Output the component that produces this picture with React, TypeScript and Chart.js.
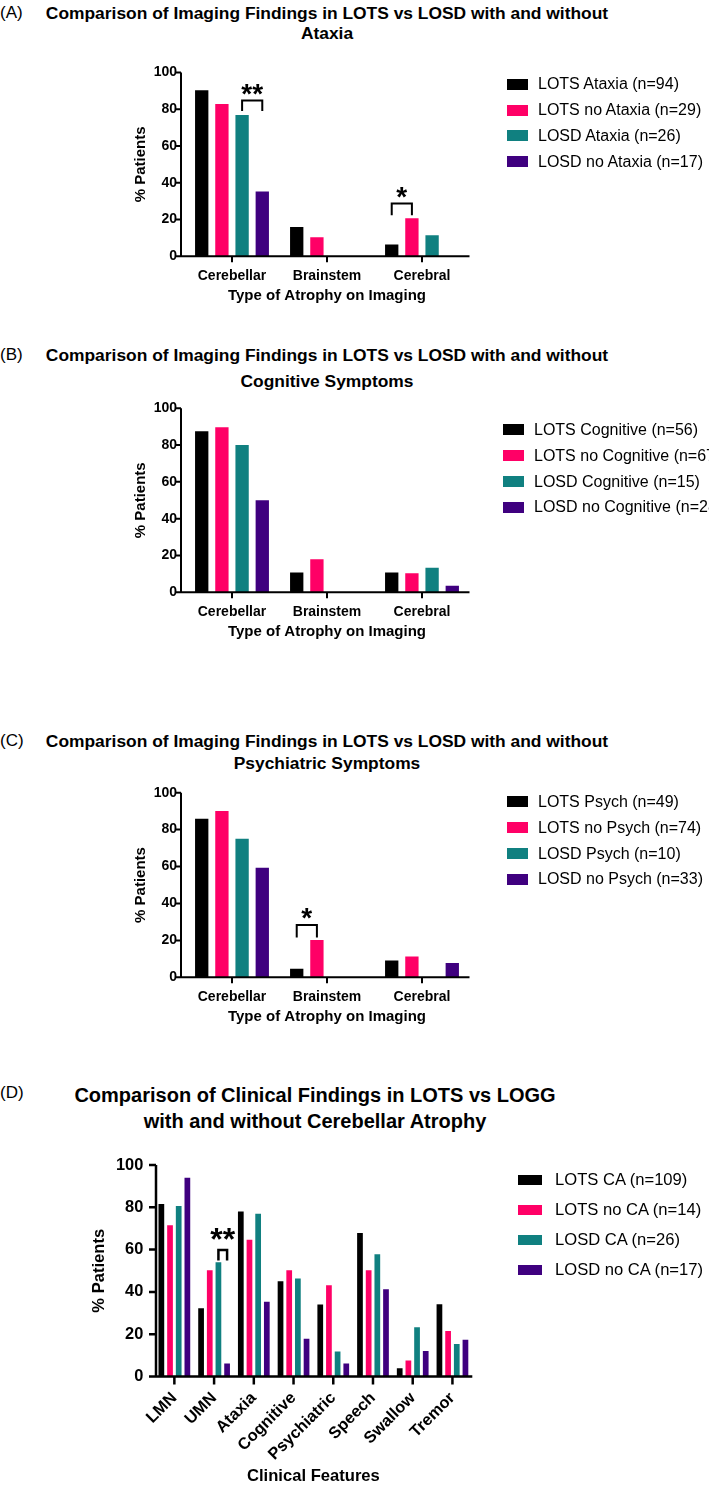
import { useEffect, useRef } from 'react'
import { Chart, registerables } from 'chart.js'

Chart.register(...registerables)

const FONT = "'Liberation Sans', Arial, Helvetica, sans-serif"
const COLORS = ['#000000', '#FF0066', '#108080', '#3F007F']

// ---- shared categories ----
const imagingCats = ['Cerebellar', 'Brainstem', 'Cerebral']
const clinicalCats = ['LMN', 'UMN', 'Ataxia', 'Cognitive', 'Psychiatric', 'Speech', 'Swallow', 'Tremor']

// ---- (A) ataxia ----
const ataxiaNames = ['LOTS Ataxia (n=94)', 'LOTS no Ataxia (n=29)', 'LOSD Ataxia (n=26)', 'LOSD no Ataxia (n=17)']
const lotsAtaxia = [90.4, 16.0, 6.4]
const lotsNoAtaxia = [82.8, 10.3, 20.7]
const losdAtaxia = [76.9, 0, 11.5]
const losdNoAtaxia = [35.3, 0, 0]
const ataxiaSig = [
  { cat: 0, from: 2, to: 3, top: 84.7, leg: 79.1, mark: '**', markAt: 91 },
  { cat: 2, from: 0, to: 1, top: 28.7, leg: 22.4, mark: '*', markAt: 34.7 },
]

// ---- (B) cognitive ----
const cogNames = ['LOTS Cognitive (n=56)', 'LOTS no Cognitive (n=67)', 'LOSD Cognitive (n=15)', 'LOSD no Cognitive (n=28)']
const lotsCog = [87.5, 10.7, 10.7]
const lotsNoCog = [89.6, 17.9, 10.4]
const losdCog = [80.0, 0, 13.3]
const losdNoCog = [50.0, 0, 3.6]

// ---- (C) psychiatric ----
const psychNames = ['LOTS Psych (n=49)', 'LOTS no Psych (n=74)', 'LOSD Psych (n=10)', 'LOSD no Psych (n=33)']
const lotsPsych = [85.9, 4.6, 9.1]
const lotsNoPsych = [90.1, 20.2, 11.3]
const losdPsych = [75.0, 0, 0]
const losdNoPsych = [59.3, 0, 7.7]
const psychSig = [{ cat: 1, from: 0, to: 1, top: 28.3, leg: 21.6, mark: '*', markAt: 34.7 }]

// ---- (D) cerebellar atrophy ----
const caNames = ['LOTS CA (n=109)', 'LOTS no CA (n=14)', 'LOSD CA (n=26)', 'LOSD no CA (n=17)']
const lotsCA = [81.6, 32.3, 78.0, 45.0, 34.0, 67.9, 3.9, 34.2]
const lotsNoCA = [71.5, 50.2, 64.6, 50.2, 43.1, 50.2, 7.6, 21.5]
const losdCA = [80.6, 54.0, 77.0, 46.3, 11.8, 57.8, 23.3, 15.4]
const losdNoCA = [94.0, 6.1, 35.4, 17.8, 6.1, 41.3, 12.1, 17.4]
const caSig = [{ cat: 1, from: 2, to: 3, top: 59.8, leg: 54.8, mark: '**', markAt: 67.2 }]

type Sig = { cat: number; from: number; to: number; top: number; leg: number; mark: string; markAt: number }

interface PanelProps {
  top: number
  height: number
  area: { left: number; right: number; top: number; bottom: number }
  axisX: number
  labels: string[]
  series: number[][]
  names: string[]
  sig: Sig[]
  xTitle: string
  catPct: number
  barPct: number
  tickFont: number
  titleFont: number
  yTitleX: number
  yLabelRight: number
  xLabelPad: number
  xTitleGap: number
  tickLen: number
  lineW: number
  starFont: number
  rotate?: number
}

function BarPanel(p: PanelProps) {
  const canvasRef = useRef<HTMLCanvasElement>(null)
  const chartRef = useRef<Chart | null>(null)

  useEffect(() => {
    if (!canvasRef.current) return
    if (chartRef.current) chartRef.current.destroy()

    const titleLH = p.titleFont * 1.2
    const padLeft = p.yTitleX - titleLH / 2
    const yw = p.area.left - padLeft
    const xh = p.xTitleGap + titleLH / 2
    const padTop = p.area.top - p.top
    const padBottom = p.top + p.height - p.area.bottom - xh

    // axis lines + outward tick marks, drawn like the original figure
    const axes = {
      id: 'prismAxes',
      afterDatasetsDraw(chart: Chart) {
        const { ctx, chartArea, scales } = chart
        const x0 = p.axisX
        const y = scales.y
        ctx.save()
        ctx.strokeStyle = '#000'
        ctx.lineWidth = p.lineW
        ctx.lineJoin = 'miter'
        ctx.beginPath()
        ctx.moveTo(x0, y.getPixelForValue(100))
        ctx.lineTo(x0, chartArea.bottom)
        ctx.lineTo(chartArea.right, chartArea.bottom)
        y.ticks.forEach(t => {
          const py = y.getPixelForValue(t.value)
          ctx.moveTo(x0 - p.tickLen, py)
          ctx.lineTo(x0, py)
        })
        scales.x.ticks.forEach((_, i) => {
          const px = scales.x.getPixelForTick(i)
          ctx.moveTo(px, chartArea.bottom)
          ctx.lineTo(px, chartArea.bottom + p.tickLen + 1)
        })
        ctx.stroke()
        ctx.restore()
      },
    }

    // significance brackets between two bars of one category
    const brackets = {
      id: 'sigBrackets',
      afterDatasetsDraw(chart: Chart) {
        const { ctx } = chart
        const y = chart.scales.y
        p.sig.forEach(s => {
          const xa = (chart.getDatasetMeta(s.from).data[s.cat] as any).x
          const xb = (chart.getDatasetMeta(s.to).data[s.cat] as any).x
          ctx.save()
          ctx.strokeStyle = '#000'
          ctx.lineWidth = p.lineW
          ctx.beginPath()
          ctx.moveTo(xa, y.getPixelForValue(s.leg))
          ctx.lineTo(xa, y.getPixelForValue(s.top))
          ctx.lineTo(xb, y.getPixelForValue(s.top))
          ctx.lineTo(xb, y.getPixelForValue(s.leg))
          ctx.stroke()
          ctx.font = `bold ${p.starFont}px ${FONT}`
          ctx.fillStyle = '#000'
          ctx.textAlign = 'center'
          ctx.textBaseline = 'alphabetic'
          const m = ctx.measureText(s.mark)
          const cy = y.getPixelForValue(s.markAt)
          ctx.fillText(s.mark, (xa + xb) / 2, cy + (m.actualBoundingBoxAscent - m.actualBoundingBoxDescent) / 2)
          ctx.restore()
        })
      },
    }

    chartRef.current = new Chart(canvasRef.current, {
      type: 'bar',
      data: {
        labels: p.labels,
        datasets: p.series.map((d, i) => ({
          label: p.names[i],
          data: d,
          backgroundColor: COLORS[i],
          borderWidth: 0,
          categoryPercentage: p.catPct,
          barPercentage: p.barPct,
        })),
      },
      options: {
        animation: false,
        responsive: false,
        layout: { padding: { left: padLeft, top: padTop, right: 709 - p.area.right, bottom: padBottom } },
        plugins: { legend: { display: false }, tooltip: { enabled: false } },
        scales: {
          x: {
            grid: { display: false, drawTicks: false },
            border: { display: false },
            ticks: {
              color: '#000',
              font: { family: FONT, size: p.tickFont, weight: 'bold' },
              padding: p.xLabelPad,
              autoSkip: false,
              minRotation: p.rotate ?? 0,
              maxRotation: p.rotate ?? 0,
            },
            title: {
              display: true,
              text: p.xTitle,
              color: '#000',
              font: { family: FONT, size: p.titleFont, weight: 'bold' },
              padding: 0,
            },
            afterFit: (s: any) => { s.height = xh },
          },
          y: {
            min: 0,
            max: 100,
            grid: { display: false, drawTicks: false },
            border: { display: false },
            ticks: {
              stepSize: 20,
              color: '#000',
              font: { family: FONT, size: p.tickFont, weight: 'bold' },
              padding: p.area.left - p.yLabelRight,
            },
            title: {
              display: true,
              text: '% Patients',
              color: '#000',
              font: { family: FONT, size: p.titleFont, weight: 'bold' },
              padding: 0,
            },
            afterFit: (s: any) => { s.width = yw },
          },
        },
      },
      plugins: [axes, brackets],
    })

    return () => { chartRef.current?.destroy() }
  }, [])

  return (
    <canvas
      ref={canvasRef}
      width={709}
      height={p.height}
      style={{ position: 'absolute', left: 0, top: p.top, width: 709, height: p.height }}
      role="img"
      aria-label={p.xTitle}
    />
  )
}

function Legend({ names, left, first, step, boxW, boxH, gap, size }: {
  names: string[]; left: number; first: number; step: number; boxW: number; boxH: number; gap: number; size: number
}) {
  return (
    <>
      {names.map((n, i) => (
        <div key={n} style={{
          position: 'absolute', left, top: first + i * step - step / 2, height: step,
          display: 'flex', alignItems: 'center', whiteSpace: 'nowrap',
          fontFamily: FONT, fontSize: size, color: '#000',
        }}>
          <span style={{ display: 'inline-block', width: boxW, height: boxH, background: COLORS[i], marginRight: gap }} />
          {n}
        </div>
      ))}
    </>
  )
}

function PanelTitle({ tag, lines, tagY, cx, y1, lh, size }: {
  tag: string; lines: string[]; tagY: number; cx: number; y1: number; lh: number; size: number
}) {
  return (
    <>
      <div style={{ position: 'absolute', left: 0, top: tagY - 10, lineHeight: '20px', fontFamily: FONT, fontSize: 17, color: '#000' }}>{tag}</div>
      <div style={{
        position: 'absolute', left: cx - 340, width: 680, top: y1 - lh / 2, lineHeight: `${lh}px`,
        textAlign: 'center', fontFamily: FONT, fontSize: size, fontWeight: 'bold', color: '#000',
      }}>
        {lines.map(l => <div key={l}>{l}</div>)}
      </div>
    </>
  )
}

const small = {
  axisX: 181, catPct: 0.85, barPct: 0.66, tickFont: 14, titleFont: 15,
  yTitleX: 141, yLabelRight: 177, xLabelPad: 11, xTitleGap: 39.4,
  tickLen: 5, lineW: 2, starFont: 28, xTitle: 'Type of Atrophy on Imaging',
}

export default function App() {
  return (
    <div style={{ position: 'absolute', left: 0, top: 0, width: 709, height: 1486, overflow: 'hidden', background: '#fff' }}>
      <PanelTitle tag="(A)" tagY={13} cx={327} y1={13} lh={20.5} size={17.4}
        lines={['Comparison of Imaging Findings in LOTS vs LOSD with and without', 'Ataxia']} />
      <BarPanel {...small} top={0} height={310}
        area={{ left: 184.5, right: 469.5, top: 72.5, bottom: 256.3 }}
        labels={imagingCats} names={ataxiaNames}
        series={[lotsAtaxia, lotsNoAtaxia, losdAtaxia, losdNoAtaxia]} sig={ataxiaSig} />
      <Legend names={ataxiaNames} left={507} first={84.3} step={25.8} boxW={21} boxH={11} gap={10} size={16} />

      <PanelTitle tag="(B)" tagY={355} cx={327} y1={355} lh={26} size={17.4}
        lines={['Comparison of Imaging Findings in LOTS vs LOSD with and without', 'Cognitive Symptoms']} />
      <BarPanel {...small} top={330} height={320}
        area={{ left: 184.5, right: 469.5, top: 408.2, bottom: 592.3 }}
        labels={imagingCats} names={cogNames}
        series={[lotsCog, lotsNoCog, losdCog, losdNoCog]} sig={[]} />
      <Legend names={cogNames} left={503} first={430} step={25.8} boxW={21} boxH={11} gap={10} size={16} />

      <PanelTitle tag="(C)" tagY={741} cx={327} y1={741} lh={22.3} size={17.4}
        lines={['Comparison of Imaging Findings in LOTS vs LOSD with and without', 'Psychiatric Symptoms']} />
      <BarPanel {...small} top={700} height={340}
        area={{ left: 184.5, right: 469.5, top: 792.7, bottom: 977.3 }}
        labels={imagingCats} names={psychNames}
        series={[lotsPsych, lotsNoPsych, losdPsych, losdNoPsych]} sig={psychSig} />
      <Legend names={psychNames} left={507} first={802} step={25.8} boxW={21} boxH={11} gap={10} size={16} />

      <PanelTitle tag="(D)" tagY={1093} cx={315} y1={1095} lh={26.7} size={20}
        lines={['Comparison of Clinical Findings in LOTS vs LOGG', 'with and without Cerebellar Atrophy']} />
      <BarPanel top={1140} height={346}
        area={{ left: 154.5, right: 472.3, top: 1165, bottom: 1376.5 }}
        axisX={156} catPct={0.873} barPct={0.66} tickFont={16.4} titleFont={16.6}
        yTitleX={99.7} yLabelRight={143.3} xLabelPad={12} xTitleGap={99.5}
        tickLen={7} lineW={2.5} starFont={32} rotate={45}
        xTitle="Clinical Features" labels={clinicalCats} names={caNames}
        series={[lotsCA, lotsNoCA, losdCA, losdNoCA]} sig={caSig} />
      <Legend names={caNames} left={518} first={1180} step={30} boxW={24} boxH={10} gap={13} size={16.6} />
    </div>
  )
}
